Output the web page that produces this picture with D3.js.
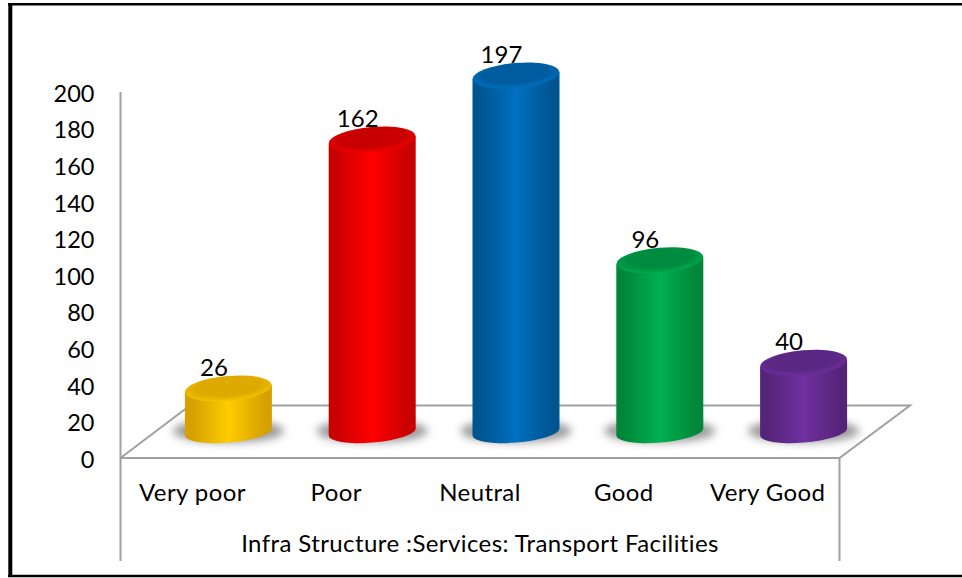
<!DOCTYPE html>
<html><head><meta charset="utf-8">
<script src="https://cdn.jsdelivr.net/npm/d3@7"></script>
<style>html,body{margin:0;padding:0;background:#fff}svg{display:block}text{font-family:Lato,Carlito,sans-serif;fill:#000;font-size:24px;letter-spacing:.4px;font-variant-ligatures:none}</style>
</head><body><div id="c"></div>
<script>
const categories=["Very poor","Poor","Neutral","Good","Very Good"];
const values=[26,162,197,96,40];
const tickValues=[0,20,40,60,80,100,120,140,160,180,200];
const colors=[
 {id:"g",mid:"#ffcc00",edge:"#d6a000",top:"#dcaa00",rim:"#f8c800"},
 {id:"r",mid:"#ff0000",edge:"#c80000",top:"#c80000",rim:"#f80000"},
 {id:"b",mid:"#0070c0",edge:"#005490",top:"#005c9f",rim:"#0074c4"},
 {id:"e",mid:"#00b050",edge:"#00863a",top:"#008c40",rim:"#00b04e"},
 {id:"p",mid:"#7030a0",edge:"#542478",top:"#5a2782",rim:"#7030a0"}];
const axisTitle="Infra Structure :Services: Transport Facilities";

const W=962,H=578;
const svg=d3.select("#c").append("svg").attr("width",W).attr("height",H);
const defs=svg.append("defs");
colors.forEach(c=>{
 const g=defs.append("linearGradient").attr("id","side"+c.id);
 [[0,c.edge],[.08,c.edge],[.5,c.mid],[.92,c.edge],[1,c.edge]].forEach(([o,k])=>{
  g.append("stop").attr("offset",o).attr("stop-color",k);});
 const t=defs.append("radialGradient").attr("id","top"+c.id).attr("cy",.42).attr("r",.62);
 t.append("stop").attr("offset",0).attr("stop-color",c.top);
 t.append("stop").attr("offset",.6).attr("stop-color",c.top);
 t.append("stop").attr("offset",1).attr("stop-color",c.rim);
});
defs.append("filter").attr("id","blur").attr("x","-30%").attr("y","-60%").attr("width","160%").attr("height","220%")
 .append("feGaussianBlur").attr("stdDeviation",4);

// frame: left, top and bottom edges only
const frame=svg.append("g").attr("stroke","#000").attr("fill","none");
frame.append("path").attr("stroke-width",4).attr("d","M10.3,3L10.3,577");
frame.append("path").attr("stroke-width",2.5).attr("d","M8,4.3L962,4.3");
frame.append("path").attr("stroke-width",2.5).attr("d","M8,576L962,576");

const x=d3.scaleBand().domain(categories).range([120.5,839.5]);
const y=d3.scaleLinear().domain([0,200]).range([458,92]);
const depthX=36,depthY=22,baseY=432,rx=43.5,topRy=12.5,baseRy=10.5,tilt=3.6;
const cx=d=>x(d)+x.bandwidth()/2+depthX;

const axisColor="#a0a0a0";
const grid=svg.append("g").attr("fill","none").attr("stroke",axisColor).attr("stroke-width",2);
const line=d3.line();
grid.append("path").attr("d",line([[120.5,92],[120.5,561]]));
grid.append("path").attr("d",line([[120.5,458],[190,405.5],[910,405.5],[839.5,458],[120.5,458]]));
grid.append("path").attr("d",line([[839.5,458],[839.5,561]]));

const yAxis=d3.axisLeft(y).tickValues(tickValues).tickSize(0).tickPadding(26);
const ya=svg.append("g").attr("transform","translate(120.5,1)").call(yAxis);
ya.select(".domain").remove();
ya.selectAll("text").attr("dy",".35em").style("font-size","23.5px").style("letter-spacing","0");
ya.attr("font-family",null);

const bars=svg.append("g").selectAll("g").data(categories).join("g");
bars.append("ellipse").attr("cx",d=>cx(d)).attr("cy",baseY-1).attr("rx",rx+12).attr("ry",baseRy+1)
 .attr("fill","#9a9a9a").attr("filter","url(#blur)");
bars.append("path").attr("d",(d,i)=>{
  const t=y(values[i])-depthY, c=cx(d);
  return `M${c-rx},${t+tilt}L${c-rx},${baseY+tilt}A${rx},${baseRy} -5 0 0 ${c+rx},${baseY-tilt}L${c+rx},${t-tilt}Z`;
 }).attr("fill",(d,i)=>`url(#side${colors[i].id})`);
bars.append("ellipse").attr("rx",rx).attr("ry",topRy)
 .attr("transform",(d,i)=>`translate(${cx(d)},${y(values[i])-depthY}) rotate(-5)`)
 .attr("fill",(d,i)=>`url(#top${colors[i].id})`);

svg.append("g").selectAll("text").data(categories).join("text")
 .attr("x",cx).attr("y",(d,i)=>y(values[i])-depthY-12.5)
 .attr("text-anchor","middle").style("letter-spacing","0")
 .text((d,i)=>values[i]).attr("dx",-14.5);

svg.append("g").selectAll("text").data(categories).join("text")
 .attr("x",d=>x(d)+x.bandwidth()/2).attr("y",501).attr("text-anchor","middle").text(d=>d);
svg.append("text").attr("x",480).attr("y",552).attr("text-anchor","middle").text(axisTitle);
</script></body></html>
